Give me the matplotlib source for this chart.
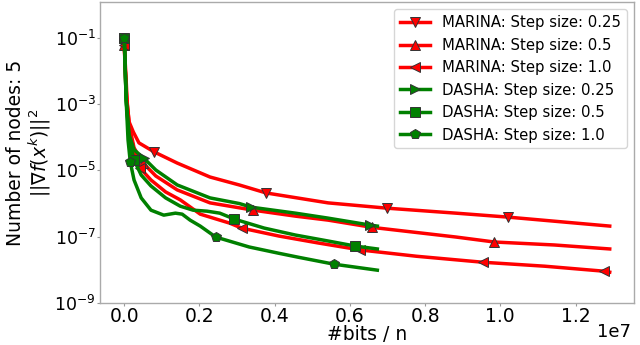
import numpy as np
import matplotlib
matplotlib.use("Agg")
import matplotlib.pyplot as plt

# x in units of 1e7 bits / n, y as log10 of ||grad f||^2
marina_025_x = [0.0, 0.005, 0.008, 0.013, 0.024, 0.039, 0.079, 0.141, 0.228, 0.306,
                0.377, 0.542, 0.699, 0.882, 1.021, 1.291]
marina_025_y = [-1.21, -2.27, -3.02, -3.54, -3.84, -4.17, -4.44, -4.78, -5.20, -5.44,
                -5.68, -5.98, -6.14, -6.29, -6.41, -6.68]

marina_05_x = [0.0, 0.005, 0.013, 0.026, 0.050, 0.084, 0.141, 0.228, 0.343, 0.455,
               0.542, 0.660, 0.882, 0.984, 1.144, 1.291]
marina_05_y = [-1.21, -2.57, -3.63, -4.32, -4.78, -5.17, -5.59, -5.98, -6.20, -6.38,
               -6.50, -6.72, -7.01, -7.16, -7.25, -7.37]

marina_1_x = [0.0, 0.005, 0.013, 0.026, 0.042, 0.071, 0.110, 0.149, 0.202, 0.280,
              0.312, 0.411, 0.516, 0.628, 0.777, 0.953, 1.118, 1.275, 1.291]
marina_1_y = [-1.21, -2.72, -3.78, -4.38, -4.93, -5.29, -5.65, -5.89, -6.32, -6.59,
              -6.74, -6.98, -7.19, -7.40, -7.59, -7.77, -7.89, -8.04, -8.07]

dasha_025_x = [0.0, 0.005, 0.013, 0.026, 0.052, 0.084, 0.141, 0.228, 0.306, 0.338,
               0.455, 0.542, 0.654, 0.673]
dasha_025_y = [-1.0, -2.87, -3.93, -4.38, -4.63, -4.99, -5.44, -5.83, -6.00, -6.11,
               -6.29, -6.44, -6.65, -6.68]

dasha_05_x = [0.0, 0.005, 0.013, 0.026, 0.045, 0.071, 0.110, 0.149, 0.183, 0.220,
              0.254, 0.293, 0.372, 0.455, 0.542, 0.613, 0.673]
dasha_05_y = [-1.0, -2.87, -4.08, -4.69, -5.14, -5.47, -5.83, -6.08, -6.20, -6.23,
              -6.29, -6.47, -6.74, -6.95, -7.13, -7.28, -7.37]

dasha_1_x = [0.0, 0.005, 0.010, 0.016, 0.026, 0.045, 0.071, 0.105, 0.136, 0.154,
             0.175, 0.202, 0.243, 0.332, 0.411, 0.463, 0.558, 0.673]
dasha_1_y = [-1.0, -2.87, -4.08, -4.75, -5.29, -5.83, -6.20, -6.35, -6.29, -6.32,
             -6.50, -6.68, -7.01, -7.31, -7.50, -7.62, -7.83, -8.01]

series = [
    ("MARINA: Step size: 0.25", marina_025_x, marina_025_y, "red", "v"),
    ("MARINA: Step size: 0.5", marina_05_x, marina_05_y, "red", "^"),
    ("MARINA: Step size: 1.0", marina_1_x, marina_1_y, "red", "<"),
    ("DASHA: Step size: 0.25", dasha_025_x, dasha_025_y, "green", ">"),
    ("DASHA: Step size: 0.5", dasha_05_x, dasha_05_y, "green", "s"),
    ("DASHA: Step size: 1.0", dasha_1_x, dasha_1_y, "green", "p"),
]

y_ticks = [1e-1, 1e-3, 1e-5, 1e-7, 1e-9]
x_scale = 1e7

fig = plt.figure(figsize=(6.4, 3.45), dpi=100)
ax = fig.add_axes([100 / 640, 1 - 303 / 345, 534 / 640, 301 / 345])

for label, xs, ys, color, marker in series:
    ax.plot(np.array(xs) * x_scale, 10 ** np.array(ys), color=color, lw=2.5,
            marker=marker, markersize=7.5, markevery=0.2,
            markeredgecolor="#333333", markeredgewidth=0.7, label=label)

ax.set_yscale("log")
ax.set_ylim(1e-9, 1.2)
ax.set_yticks(y_ticks)
ax.yaxis.set_minor_locator(matplotlib.ticker.NullLocator())

ax.set_xlabel("#bits / n", fontsize=13.5, labelpad=-1)
ax.set_ylabel("Number of nodes: 5\n$||\\nabla f(x^k)||^2$", fontsize=13.5,
              labelpad=1, linespacing=1.1)
ax.tick_params(axis="x", labelsize=13.5, length=2, color="#999999", pad=1)
ax.tick_params(axis="y", labelsize=12.5, length=2, color="#999999", pad=1)

# offset text drawn by hand so it stays inside the figure
ax.xaxis.get_offset_text().set_visible(False)
ax.text(0.995, -0.068, "1e7", transform=ax.transAxes, ha="right", va="top",
        fontsize=13)

for sp in ax.spines.values():
    sp.set_color("#aaaaaa")
    sp.set_linewidth(1.0)

ax.legend(loc="upper right", fontsize=10.7)

fig.savefig("out.png", dpi=100)
